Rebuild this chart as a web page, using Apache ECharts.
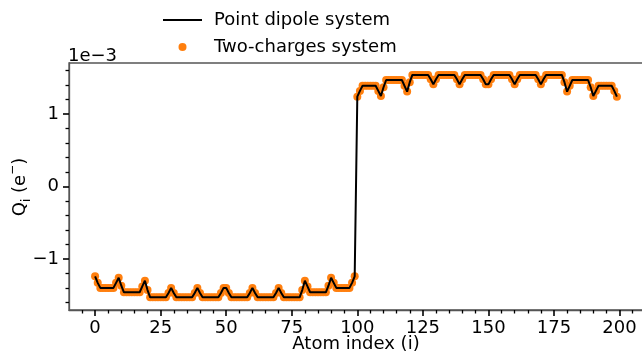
<!DOCTYPE html>
<html>
<head>
<meta charset="utf-8">
<script src="https://cdn.jsdelivr.net/npm/echarts@6/dist/echarts.min.js"></script>
<style>
  html, body { margin: 0; padding: 0; background: #fff; }
  #chart { width: 642px; height: 353px; }
</style>
</head>
<body>
<div id="chart"></div>
<script>
// charge per atom, in units of 1e-3 e (atoms 0..199)
// the point dipole and two-charges models overlap at this scale
const qPointDipole = [
  -1.24, -1.33, -1.40, -1.40, -1.40, -1.40, -1.40, -1.40, -1.33, -1.26,
  -1.37, -1.46, -1.46, -1.46, -1.46, -1.46, -1.46, -1.46, -1.38, -1.30,
  -1.43, -1.53, -1.53, -1.53, -1.53, -1.53, -1.53, -1.53, -1.47, -1.40,
  -1.47, -1.53, -1.53, -1.53, -1.53, -1.53, -1.53, -1.53, -1.47, -1.40,
  -1.47, -1.53, -1.53, -1.53, -1.53, -1.53, -1.53, -1.53, -1.47, -1.40,
  -1.40, -1.47, -1.53, -1.53, -1.53, -1.53, -1.53, -1.53, -1.53, -1.47,
  -1.40, -1.47, -1.53, -1.53, -1.53, -1.53, -1.53, -1.53, -1.53, -1.47,
  -1.40, -1.47, -1.53, -1.53, -1.53, -1.53, -1.53, -1.53, -1.53, -1.43,
  -1.30, -1.38, -1.46, -1.46, -1.46, -1.46, -1.46, -1.46, -1.46, -1.37,
  -1.26, -1.33, -1.40, -1.40, -1.40, -1.40, -1.40, -1.40, -1.33, -1.24,
   1.24,  1.32,  1.39,  1.39,  1.39,  1.39,  1.39,  1.39,  1.32,  1.25,
   1.37,  1.47,  1.47,  1.47,  1.47,  1.47,  1.47,  1.47,  1.39,  1.31,
   1.44,  1.54,  1.54,  1.54,  1.54,  1.54,  1.54,  1.54,  1.48,  1.41,
   1.48,  1.54,  1.54,  1.54,  1.54,  1.54,  1.54,  1.54,  1.48,  1.41,
   1.48,  1.54,  1.54,  1.54,  1.54,  1.54,  1.54,  1.54,  1.48,  1.41,
   1.41,  1.48,  1.54,  1.54,  1.54,  1.54,  1.54,  1.54,  1.54,  1.48,
   1.41,  1.48,  1.54,  1.54,  1.54,  1.54,  1.54,  1.54,  1.54,  1.48,
   1.41,  1.48,  1.54,  1.54,  1.54,  1.54,  1.54,  1.54,  1.54,  1.44,
   1.31,  1.39,  1.47,  1.47,  1.47,  1.47,  1.47,  1.47,  1.47,  1.37,
   1.25,  1.32,  1.39,  1.39,  1.39,  1.39,  1.39,  1.39,  1.32,  1.24
];
const qTwoCharges = qPointDipole;

const xTicks = [0, 25, 50, 75, 100, 125, 150, 175, 200];
const xMinorTicks = [-5, 5, 10, 15, 20, 30, 35, 40, 45, 55, 60, 65, 70, 80, 85, 90, 95,
  105, 110, 115, 120, 130, 135, 140, 145, 155, 160, 165, 170, 180, 185, 190, 195, 205];
const yTicks = [-1, 0, 1];
const yMinorTicks = [-1.6, -1.4, -1.2, -0.8, -0.6, -0.4, -0.2, 0.2, 0.4, 0.6, 0.8, 1.2, 1.4, 1.6];

const FONT = 'DejaVu Sans';
const FS = 18;
const SPINE = '#555';

function fmtMinus(v) {
  return v < 0 ? '\u2212' + Math.abs(v) : String(v);
}

// second axis on the same side, only carrying the minor ticks
function minorAxis(ticks, extra) {
  return Object.assign({
    type: 'value',
    axisLine: { show: false, onZero: false },
    axisLabel: { show: false },
    splitLine: { show: false },
    axisTick: {
      show: true,
      customValues: ticks,
      length: 3.5,
      lineStyle: { color: '#000', width: 1.3 }
    }
  }, extra);
}

const atomIndex = qPointDipole.map((_, i) => i);
const toPoints = (vals) => vals.map((v, i) => [atomIndex[i], v]);

const chart = echarts.init(document.getElementById('chart'), null, { renderer: 'canvas' });

chart.setOption({
  animation: false,
  backgroundColor: '#fff',
  textStyle: { fontFamily: FONT },
  grid: {
    left: 69, top: 63, width: 574, height: 247,
    outerBoundsMode: 'none',
    show: true, borderColor: SPINE, borderWidth: 1.3, backgroundColor: 'transparent'
  },
  legend: {
    orient: 'vertical',
    left: 163, top: 11,
    padding: 0,
    itemWidth: 39, itemHeight: 8, itemGap: 9,
    textStyle: { fontFamily: FONT, fontSize: FS, color: '#000', padding: [0, 0, 0, 7] },
    data: [
      { name: 'Point dipole system', icon: 'path://M0,0 H39 V2 H0 Z', itemStyle: { color: '#000' } },
      { name: 'Two-charges system', icon: 'circle' }
    ]
  },
  xAxis: [
    {
      type: 'value', min: -9.95, max: 208.95,
      name: 'Atom index (i)', nameLocation: 'middle', nameGap: 25, nameMoveOverlap: false,
      nameTextStyle: { fontFamily: FONT, fontSize: FS, color: '#000' },
      axisLine: { show: true, onZero: false, lineStyle: { color: SPINE, width: 1.3 } },
      axisTick: { show: true, customValues: xTicks, length: 6, lineStyle: { color: '#000', width: 1.6 } },
      axisLabel: { customValues: xTicks, margin: 9, fontFamily: FONT, fontSize: FS, color: '#000' },
      splitLine: { show: false }
    },
    minorAxis(xMinorTicks, { min: -9.95, max: 208.95, position: 'bottom' })
  ],
  yAxis: [
    {
      type: 'value', min: -1.705, max: 1.705,
      axisLine: { show: true, onZero: false, lineStyle: { color: SPINE, width: 1.3 } },
      axisTick: { show: true, customValues: yTicks, length: 6, lineStyle: { color: '#000', width: 1.6 } },
      axisLabel: { customValues: yTicks, margin: 10, fontFamily: FONT, fontSize: FS, color: '#000', formatter: fmtMinus },
      splitLine: { show: false }
    },
    minorAxis(yMinorTicks, { min: -1.705, max: 1.705, position: 'left' })
  ],
  graphic: [
    {
      type: 'text', left: 68, top: 47,
      style: { text: '1e\u22123', fontFamily: FONT, fontSize: FS, fill: '#000' }
    },
    {
      type: 'text', x: 20, y: 187, rotation: Math.PI / 2,
      style: {
        text: '{q|Q}{sub|i}{q| (e}{sup|\u2212}{q|)}',
        x: 0, y: 0, align: 'center', verticalAlign: 'middle',
        rich: {
          q: { fontFamily: FONT, fontSize: FS, fill: '#000', lineHeight: 26, verticalAlign: 'middle' },
          sub: { fontFamily: FONT, fontSize: 12, fill: '#000', lineHeight: 26, verticalAlign: 'bottom' },
          sup: { fontFamily: FONT, fontSize: 12, fill: '#000', lineHeight: 26, verticalAlign: 'top' }
        }
      }
    }
  ],
  series: [
    {
      name: 'Two-charges system',
      type: 'scatter',
      data: toPoints(qTwoCharges),
      symbol: 'circle',
      symbolSize: 8,
      itemStyle: { color: '#ff7f0e', opacity: 1 },
      z: 2
    },
    {
      name: 'Point dipole system',
      type: 'line',
      data: toPoints(qPointDipole),
      symbol: 'none',
      showSymbol: false,
      lineStyle: { color: '#000', width: 2 },
      itemStyle: { color: '#000' },
      z: 3
    }
  ]
});
</script>
</body>
</html>
